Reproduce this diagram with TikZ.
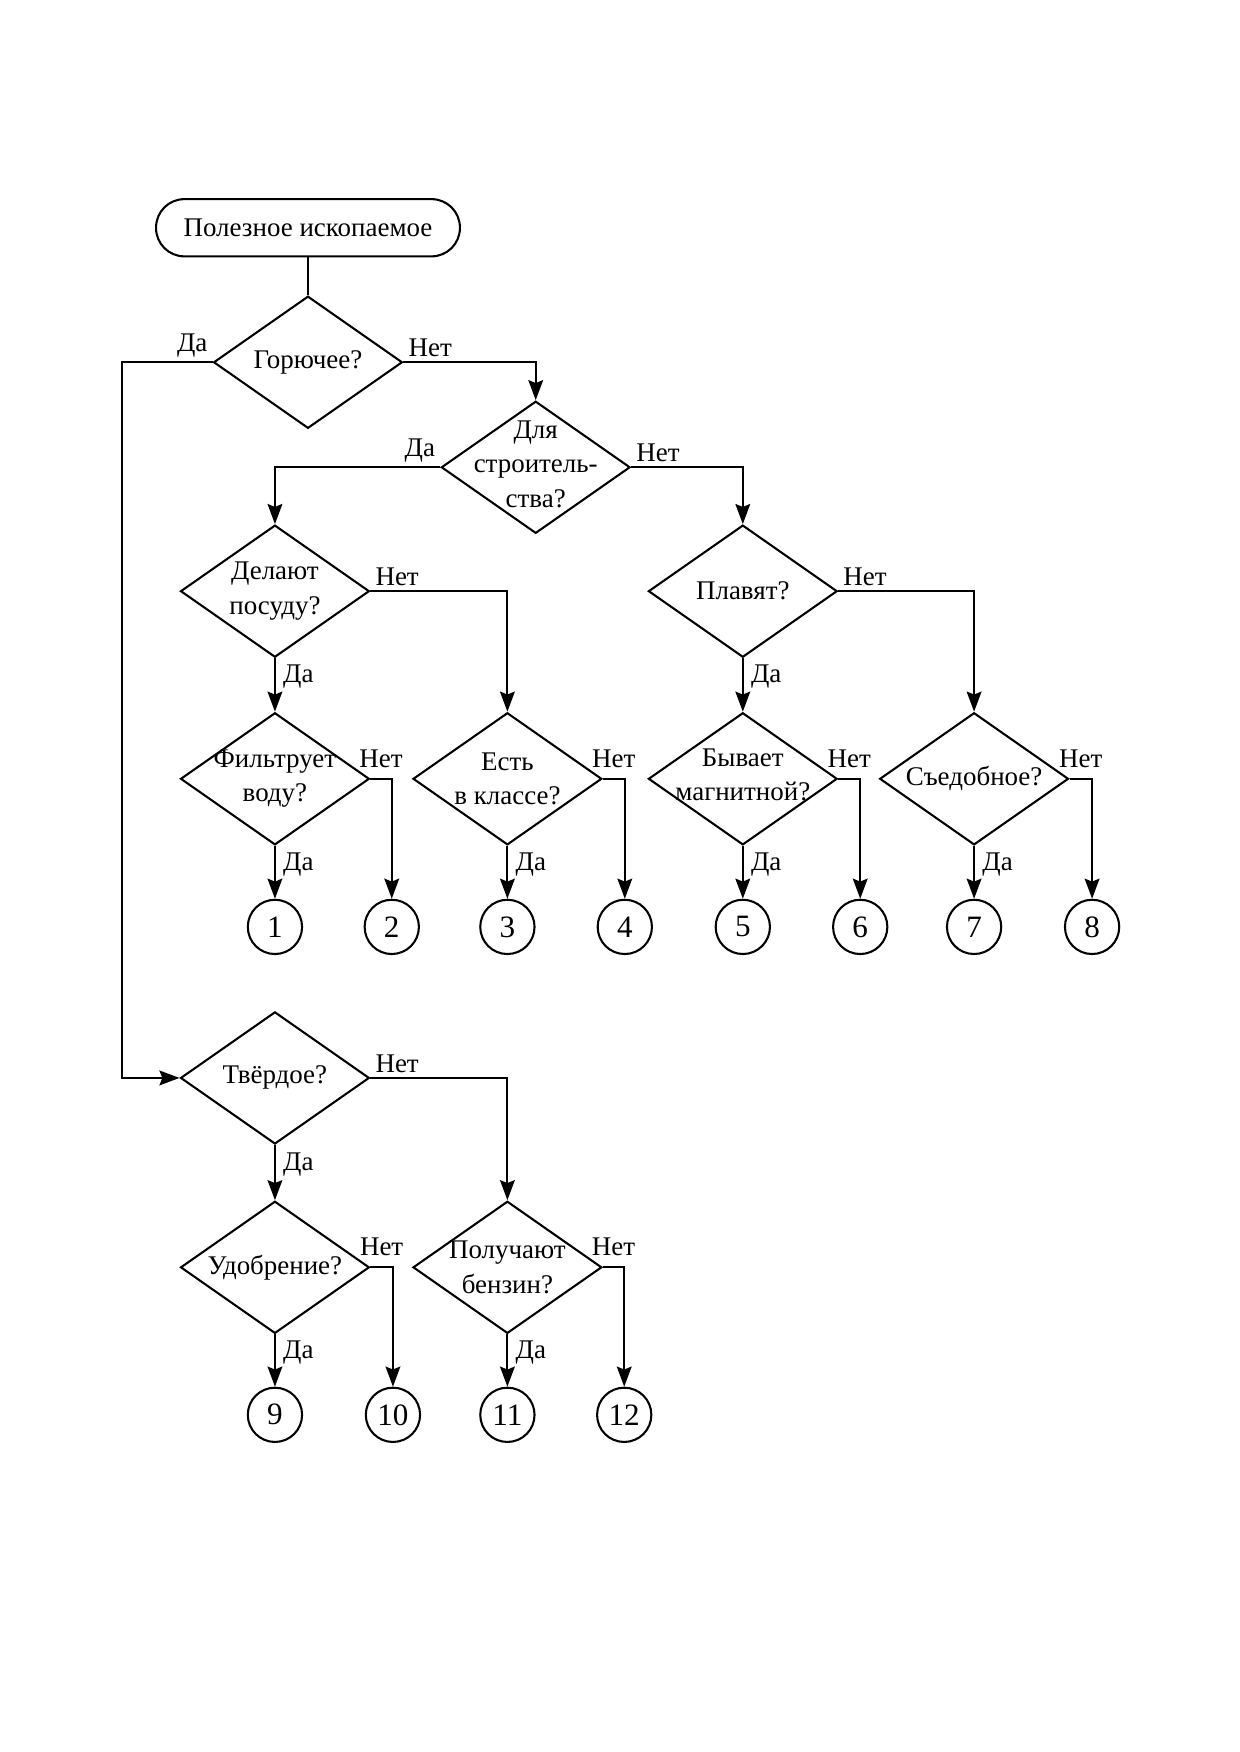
\documentclass[tikz,border=0pt]{standalone}
\usepackage{fontspec}
\setmainfont{Liberation Serif}
\usetikzlibrary{shapes.geometric,arrows.meta}

\tikzset{
  term/.style={draw, line width=1pt, rounded corners=0.48cm,
    minimum width=5.15cm, minimum height=0.97cm},
  decision/.style={diamond, draw, line width=1pt, minimum width=3.2cm,
    minimum height=2.24cm, inner sep=0pt},
  leaf/.style={circle, draw, line width=1pt, minimum size=0.92cm,
    inner sep=0pt, font=\fontsize{15}{17}\selectfont},
  link/.style={line width=1pt, -{Stealth[length=0.34cm, width=0.25cm, inset=0.05cm]}},
  answer/.style={inner sep=3.5pt},
  cornerans/.style={inner sep=2pt},
  sideno/.style={above, inner sep=2pt, yshift=3pt}
}

\begin{document}
\begin{tikzpicture}[font=\fontsize{13}{16.5}\selectfont]

    \useasboundingbox (0,0) rectangle (21,-29.695);

    \node[term] (start) at (5.22,-3.86) {Полезное ископаемое};

    \node[decision, label={center:Горючее?}] (gor) at (5.22,-6.14) {};

    \node[decision, label={[align=center, yshift=1.5pt]center:Для\\строитель-\\ства?}]
      (stroi) at (9.08,-7.92) {};



    \node[decision, label={[align=center]center:Делают\\посуду?}]
      (posuda) at (4.66,-10.02) {};

    \node[decision, label={center:Плавят?}] (plav) at (12.59,-10.02) {};



    \node[decision, label={[align=center]center:Фильтрует\\воду?}]
      (filtr) at (4.66,-13.2) {};

    \node[decision, label={[align=center]center:Есть\\в классе?}]
      (klass) at (8.6,-13.2) {};

    \node[decision, label={[align=center, yshift=2pt]center:Бывает\\магнитной?}]
      (magnit) at (12.59,-13.2) {};

    \node[decision, label={center:Съедобное?}] (sedob) at (16.51,-13.2) {};



    \node[leaf] (n1) at (4.66,-15.71) {1};
    \node[leaf] (n2) at (6.64,-15.71) {2};
    \node[leaf] (n3) at (8.6,-15.71) {3};
    \node[leaf] (n4) at (10.59,-15.71) {4};
    \node[leaf] (n5) at (12.59,-15.71) {5};
    \node[leaf] (n6) at (14.58,-15.71) {6};
    \node[leaf] (n7) at (16.51,-15.71) {7};
    \node[leaf] (n8) at (18.51,-15.71) {8};



    \node[decision, label={center:Твёрдое?}] (tverd) at (4.66,-18.27) {};

    \node[decision, label={center:Удобрение?}] (udobr) at (4.66,-21.48) {};

    \node[decision, label={[align=center]center:Получают\\бензин?}]
      (benzin) at (8.6,-21.48) {};

    \node[leaf] (n9) at (4.66,-23.98) {9};
    \node[leaf] (n10) at (6.66,-23.98) {10};
    \node[leaf] (n11) at (8.6,-23.98) {11};
    \node[leaf] (n12) at (10.58,-23.98) {12};



    \coordinate (bend) at (2.07,-6.14);

    \draw[line width=1pt] (start) -- (gor);

    \draw[link] (gor.east) -| node[pos=0, above right, cornerans] {Нет} (stroi.north);
    \draw[link] (gor.west) -- node[pos=0, above left, cornerans] {Да} (bend)
      |- (tverd.west);

    \draw[link] (stroi.west) -| node[pos=0, above left, cornerans] {Да} (posuda.north);
    \draw[link] (stroi.east) -| node[pos=0, above right, cornerans] {Нет} (plav.north);

    \draw[link] (posuda.south) -- node[pos=0.35, right, answer] {Да} (filtr.north);
    \draw[link] (posuda.east) -| node[pos=0, above right, cornerans] {Нет} (klass.north);

    \draw[link] (plav.south) -- node[pos=0.35, right, answer] {Да} (magnit.north);
    \draw[link] (plav.east) -| node[pos=0, above right, cornerans] {Нет} (sedob.north);

    \draw[link] (filtr.south) -- node[pos=0.35, right, answer] {Да} (n1.north);
    \draw[link] (filtr.east) -| node[pos=0.25, sideno] {Нет} (n2.north);

    \draw[link] (klass.south) -- node[pos=0.35, right, answer] {Да} (n3.north);
    \draw[link] (klass.east) -| node[pos=0.25, sideno] {Нет} (n4.north);

    \draw[link] (magnit.south) -- node[pos=0.35, right, answer] {Да} (n5.north);
    \draw[link] (magnit.east) -| node[pos=0.25, sideno] {Нет} (n6.north);

    \draw[link] (sedob.south) -- node[pos=0.35, right, answer] {Да} (n7.north);
    \draw[link] (sedob.east) -| node[pos=0.25, sideno] {Нет} (n8.north);

    \draw[link] (tverd.south) -- node[pos=0.35, right, answer] {Да} (udobr.north);
    \draw[link] (tverd.east) -| node[pos=0, above right, cornerans] {Нет} (benzin.north);

    \draw[link] (udobr.south) -- node[pos=0.35, right, answer] {Да} (n9.north);
    \draw[link] (udobr.east) -| node[pos=0.25, sideno] {Нет} (n10.north);

    \draw[link] (benzin.south) -- node[pos=0.35, right, answer] {Да} (n11.north);
    \draw[link] (benzin.east) -| node[pos=0.25, sideno] {Нет} (n12.north);

  \end{tikzpicture}
\end{document}
